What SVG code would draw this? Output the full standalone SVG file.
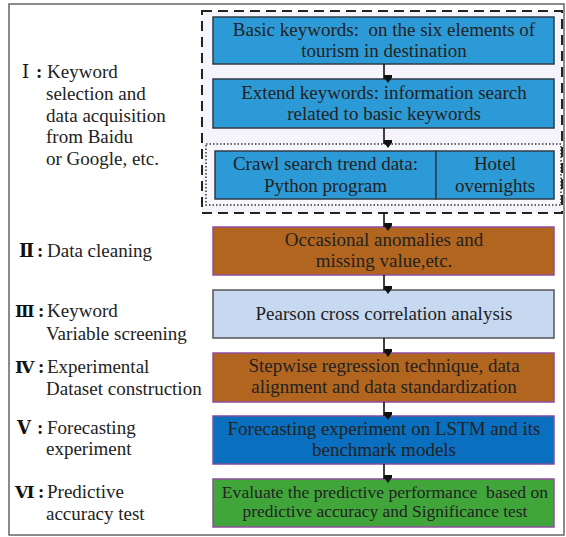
<svg xmlns="http://www.w3.org/2000/svg" width="566" height="537" viewBox="0 0 566 537">
<style>
text{font-family:"Liberation Serif","Times New Roman",serif;font-size:19px;fill:#222;white-space:pre}
.c{text-anchor:middle}
.rn{font-family:"DejaVu Serif","Liberation Serif",serif;font-weight:bold;font-size:18px;fill:#111}
.col{font-weight:bold;fill:#111}
.box{stroke-width:1.5}
.blue{fill:#2C9AD6;stroke:#2E3B45}
.brown{fill:#B2651F;stroke:#8E4E9E}
.lblue{fill:#C6D9F1;stroke:#555}
.dblue{fill:#0A6FBF;stroke:#7B4FA0}
.green{fill:#40A63A;stroke:#8E4E9E}
.arr{stroke:#111;stroke-width:1.6;fill:none;marker-end:url(#ah)}
</style>
<defs>
<marker id="ah" markerUnits="userSpaceOnUse" markerWidth="12" markerHeight="8" refX="5" refY="7" orient="auto-start-reverse" viewBox="0 0 10 7">
<path d="M0,0 L10,0 L5,7 Z" fill="#111" transform="rotate(-90 5 3.5)"/>
</marker>
</defs>
<rect x="9" y="4" width="555" height="531" fill="#fff" stroke="#666" stroke-width="1.5"/>
<g id="group-I">
<rect x="202" y="11" width="360" height="202" fill="#F4F4FA" stroke="#222" stroke-width="2" stroke-dasharray="10,6"/>
</g>
<g id="label-I">
<text class="rn" x="22" y="78" style="font-weight:normal">Ⅰ</text>
<text class="col" x="36" y="78">:</text>
<text x="47" y="78">Keyword</text>
<text x="46" y="100">selection and</text>
<text x="46" y="122">data acquisition</text>
<text x="46" y="143">from Baidu</text>
<text x="46" y="165">or Google, etc.</text>
</g>
<g id="node-basic">
<rect class="box blue" x="213" y="17" width="341" height="47"/>
<text class="c" x="384" y="36">Basic keywords:  on the six elements of</text>
<text class="c" x="384" y="57">tourism in destination</text>
</g>
<g id="node-extend">
<rect class="box blue" x="213" y="79" width="341" height="49"/>
<text class="c" x="384" y="99">Extend keywords: information search</text>
<text class="c" x="384" y="120">related to basic keywords</text>
</g>
<g id="group-data">
<rect x="206" y="144" width="355" height="61" fill="#F8F8FC" stroke="#333" stroke-width="1.5" stroke-dasharray="1.5,2"/>
</g>
<g id="node-crawl">
<rect class="box blue" x="215" y="151" width="221" height="48"/>
<text class="c" x="325.5" y="170">Crawl search trend data:</text>
<text class="c" x="325.5" y="192">Python program</text>
</g>
<g id="node-hotel">
<rect class="box blue" x="436" y="151" width="118" height="48"/>
<text class="c" x="495" y="170">Hotel</text>
<text class="c" x="495" y="192">overnights</text>
</g>
<g id="label-II">
<text class="rn" x="19" y="257">Ⅱ</text>
<text class="col" x="37" y="257">:</text>
<text x="47" y="257">Data cleaning</text>
</g>
<g id="node-cleaning">
<rect class="box brown" x="213" y="227" width="341" height="48"/>
<text class="c" x="384" y="246">Occasional anomalies and</text>
<text class="c" x="384" y="267">missing value,etc.</text>
</g>
<g id="label-III">
<text class="rn" x="15" y="317" style="font-size:16px">Ⅲ</text>
<text class="col" x="38" y="317">:</text>
<text x="47" y="317">Keyword</text>
<text x="46" y="340">Variable screening</text>
</g>
<g id="node-pearson">
<rect class="box lblue" x="213" y="290" width="341" height="48"/>
<text class="c" x="384" y="320">Pearson cross correlation analysis</text>
</g>
<g id="label-IV">
<text class="rn" x="15" y="373" style="font-size:17px">Ⅳ</text>
<text class="col" x="38" y="373">:</text>
<text x="47" y="373">Experimental</text>
<text x="46" y="395">Dataset construction</text>
</g>
<g id="node-stepwise">
<rect class="box brown" x="213" y="353" width="341" height="49"/>
<text class="c" x="384" y="372">Stepwise regression technique, data</text>
<text class="c" x="384" y="393">alignment and data standardization</text>
</g>
<g id="label-V">
<text class="rn" x="17" y="434">Ⅴ</text>
<text class="col" x="37" y="434">:</text>
<text x="47" y="434">Forecasting</text>
<text x="46" y="455">experiment</text>
</g>
<g id="node-forecast">
<rect class="box dblue" x="213" y="416" width="341" height="48"/>
<text class="c" x="384" y="435">Forecasting experiment on LSTM and its</text>
<text class="c" x="384" y="456">benchmark models</text>
</g>
<g id="label-VI">
<text class="rn" x="15" y="498" style="font-size:17px">Ⅵ</text>
<text class="col" x="38" y="498">:</text>
<text x="47" y="498">Predictive</text>
<text x="46" y="520">accuracy test</text>
</g>
<g id="node-evaluate">
<rect class="box green" x="213" y="479" width="341" height="48"/>
<text class="c" x="385" y="498" style="font-size:17.6px">Evaluate the predictive performance  based on</text>
<text class="c" x="385" y="517" style="font-size:17.4px">predictive accuracy and Significance test</text>
</g>
<g id="connectors">
<line class="arr" x1="384" y1="64" x2="384" y2="79"/>
<line class="arr" x1="384" y1="128" x2="384" y2="144"/>
<line class="arr" x1="384" y1="213" x2="384" y2="227"/>
<line class="arr" x1="384" y1="275" x2="384" y2="290"/>
<line class="arr" x1="384" y1="338" x2="384" y2="353"/>
<line class="arr" x1="384" y1="402" x2="384" y2="416"/>
<line class="arr" x1="384" y1="464" x2="384" y2="479"/>
</g>
</svg>
